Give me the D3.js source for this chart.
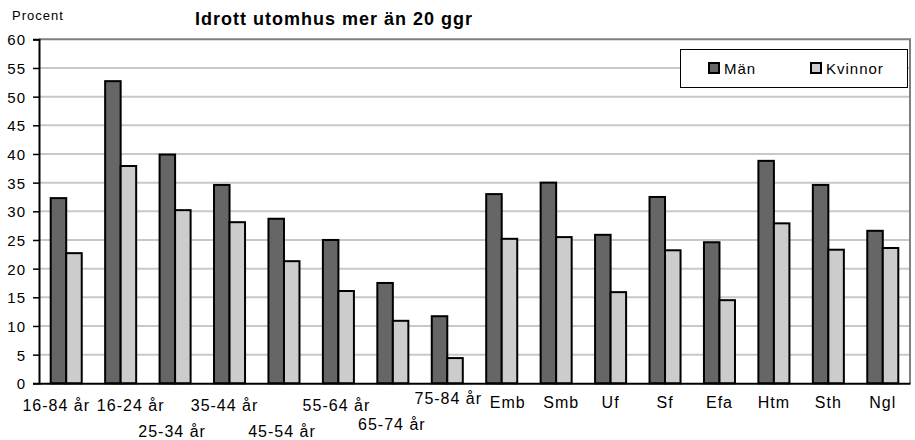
<!DOCTYPE html>
<html>
<head>
<meta charset="utf-8">
<script src="https://cdn.jsdelivr.net/npm/d3@7"></script>
<style>
  body { margin: 0; background: #fff; }
  text { font-family: "Liberation Sans", Arial, sans-serif; fill: #000; letter-spacing: 1px; }
</style>
</head>
<body>
<svg width="915" height="440"></svg>
<script>
let categories = ['16-84 år', '16-24 år', '25-34 år', '35-44 år', '45-54 år', '55-64 år', '65-74 år', '75-84 år',
  'Emb', 'Smb', 'Uf', 'Sf', 'Efa', 'Htm', 'Sth', 'Ngl'];
let man = [32.3, 52.7, 39.9, 34.6, 28.7, 25.0, 17.5, 11.7, 33.0, 35.0, 25.9, 32.5, 24.6, 38.8, 34.6, 26.6];
let kvinnor = [22.7, 37.9, 30.2, 28.1, 21.3, 16.1, 10.9, 4.4, 25.2, 25.5, 15.9, 23.2, 14.5, 27.9, 23.3, 23.6];
let yTicks = [0, 5, 10, 15, 20, 25, 30, 35, 40, 45, 50, 55, 60];
let seriesNames = ['Män', 'Kvinnor'];
let colors = ['#666666', '#cccccc'];

let svg = d3.select('svg');
let plotLeft = 39, plotRight = 910, plotTop = 39.3, plotBottom = 383.3;

let x = d3.scaleBand().domain(categories).range([plotLeft, plotRight]);
let y = d3.scaleLinear().domain([0, 60]).range([plotBottom, plotTop]);
let barW = x.bandwidth() * 0.285;

// gridlines
svg.append('g').selectAll('line').data(yTicks.filter(d => d > 0 && d < 60)).join('line')
  .attr('x1', plotLeft).attr('x2', plotRight)
  .attr('y1', d => y(d)).attr('y2', d => y(d))
  .attr('stroke', '#c8c8c8').attr('stroke-width', 2);

// plot border top/right
svg.append('path')
  .attr('d', `M${plotLeft},${y(60)}H${plotRight}V${plotBottom}`)
  .attr('fill', 'none').attr('stroke', '#808080').attr('stroke-width', 2);

// bars
let groups = svg.append('g').selectAll('g').data(categories).join('g')
  .attr('transform', c => `translate(${x(c) + x.bandwidth() / 2},0)`);

groups.append('rect')
  .attr('x', -barW).attr('width', barW)
  .attr('y', (c, i) => y(man[i])).attr('height', (c, i) => plotBottom - y(man[i]))
  .attr('fill', colors[0]).attr('stroke', '#000').attr('stroke-width', 2);

groups.append('rect')
  .attr('x', 0).attr('width', barW)
  .attr('y', (c, i) => y(kvinnor[i])).attr('height', (c, i) => plotBottom - y(kvinnor[i]))
  .attr('fill', colors[1]).attr('stroke', '#000').attr('stroke-width', 2);

// y axis
let yAxis = svg.append('g')
  .attr('transform', `translate(${plotLeft},0)`)
  .call(d3.axisLeft(y).tickValues(yTicks).tickSize(6).tickPadding(7));
yAxis.select('.domain').attr('stroke', '#000').attr('stroke-width', 2);
yAxis.selectAll('.tick line').attr('stroke', '#000').attr('stroke-width', 1.5);
yAxis.selectAll('.tick text').attr('font-size', 15).attr('dy', '0.36em')
  .style('font-family', '"Liberation Sans", Arial, sans-serif');

// x axis, Excel-style staggered labels
let baseline = [411, 411, 437, 411, 437, 411, 430, 404];
let shiftX = [-10, 10, -3, -5, -2, -2, -1, 1, 6, 5];
let xAxis = svg.append('g')
  .attr('transform', `translate(0,${plotBottom})`)
  .call(d3.axisBottom(x).tickSize(0).tickPadding(0));
xAxis.select('.domain').attr('stroke', '#000').attr('stroke-width', 2);
xAxis.selectAll('.tick text')
  .attr('font-size', 16)
  .style('font-family', '"Liberation Sans", Arial, sans-serif')
  .attr('dy', null)
  .attr('y', (d, i) => (baseline[i] || 408) - plotBottom)
  .attr('x', (d, i) => shiftX[i] || 0);

// titles
svg.append('text').attr('x', 12).attr('y', 19.5).attr('font-size', 13).text('Procent');
svg.append('text').attr('x', 334).attr('y', 25).attr('text-anchor', 'middle')
  .attr('font-size', 18).attr('font-weight', 'bold').text('Idrott utomhus mer än 20 ggr');

// legend
let legend = svg.append('g');
legend.append('rect').attr('x', 680.5).attr('y', 49.5).attr('width', 227).attr('height', 38)
  .attr('fill', '#fff').attr('stroke', '#000').attr('stroke-width', 1);
let legendX = [708, 810];
seriesNames.forEach((name, i) => {
  legend.append('rect').attr('x', legendX[i] + 1).attr('y', 63).attr('width', 10).attr('height', 10)
    .attr('fill', colors[i]).attr('stroke', '#000').attr('stroke-width', 2);
  legend.append('text').attr('x', legendX[i] + 16).attr('y', 73.5).attr('font-size', 15).text(name);
});
</script>
</body>
</html>
